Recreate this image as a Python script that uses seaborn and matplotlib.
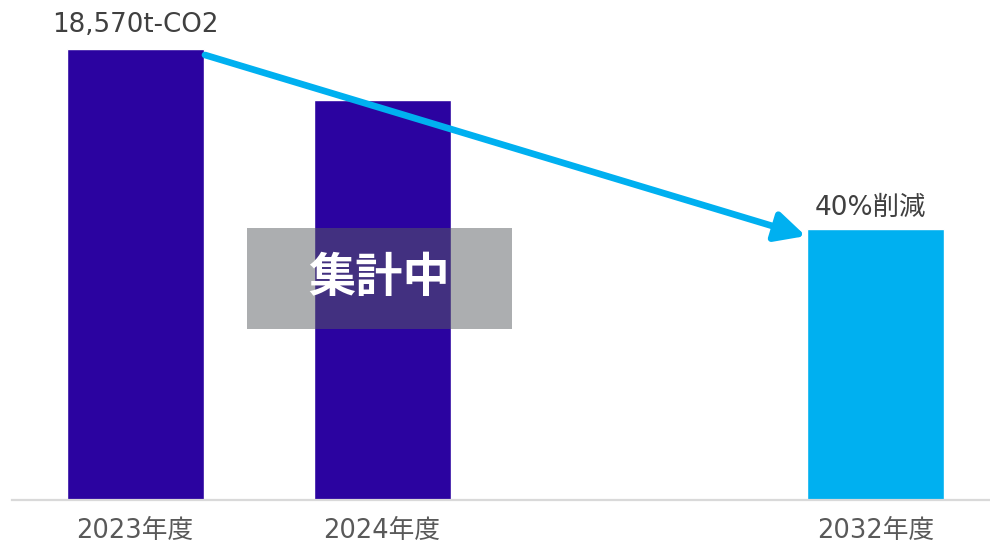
import numpy as np
import pandas as pd
import matplotlib
matplotlib.use("Agg")
import matplotlib.pyplot as plt
from matplotlib.patches import Rectangle
import seaborn as sns

# Emissions by fiscal year (t-CO2); the empty slot keeps the gap before the target year
years = ["2023年度", "2024年度", " ", "2032年度"]
emissions = [18570, 16480, np.nan, 11142]   # 2032 target = 40% below 2023
bar_colors = ["#2B03A0", "#2B03A0", "#2B03A0", "#00B0F0"]
base_label = "18,570t-CO2"
target_label = "40%削減"
pending_label = "集計中"

sns.set_theme(style="white")
plt.rcParams["font.family"] = ["DejaVu Sans", "Noto Sans CJK JP"]

df = pd.DataFrame({"year": years, "emissions": emissions})

fig = plt.figure(figsize=(9.9, 5.43), dpi=100)
ax = fig.add_axes([11.8 / 990, 1 - 499.5 / 543, (990 - 11.8) / 990, 499.5 / 543])

bar_w = 0.555
sns.barplot(data=df, x="year", y="emissions", hue="year", order=years,
            palette=dict(zip(years, bar_colors)), width=bar_w, dodge=False,
            legend=False, saturation=1, ax=ax)

ax.set_xlim(-0.5, -0.5 + (990 - 11.8) / 246.85)
ax.set_ylim(0, 20603)
ax.set_xlabel("")
ax.set_ylabel("")
ax.set_yticks([])
for side in ("left", "right", "top"):
    ax.spines[side].set_visible(False)
ax.spines["bottom"].set_color("#D9D9D9")
ax.spines["bottom"].set_linewidth(1.6)
ax.tick_params(axis="x", length=0, pad=13, labelsize=18.5, labelcolor="#595959")

# value labels above the first and last bars
ax.annotate(base_label, xy=(0, emissions[0]), xytext=(0, 12.5), textcoords="offset points",
            ha="center", va="baseline", fontsize=18.8, color="#404040")
ax.annotate(target_label, xy=(3, emissions[3]), xytext=(-4, 10.3), textcoords="offset points",
            ha="center", va="baseline", fontsize=19, color="#404040")

# reduction arrow from the base year to the target year
ax.annotate("", xy=(3 - bar_w / 2 - 0.006, emissions[3] - 275),
            xytext=(0 + bar_w / 2 + 0.005, emissions[0] - 235),
            arrowprops=dict(arrowstyle="-|>,head_length=0.9,head_width=0.45",
                            color="#00B0F0", lw=4.8, mutation_scale=20,
                            shrinkA=0, shrinkB=0))

# "in progress" overlay on the 2024 bar
ax.add_patch(Rectangle((0.452, 7045), 1.073, 4154, facecolor="#5A5E62", alpha=0.5,
                       edgecolor="none", zorder=5))
ax.text(0.988, 9122, pending_label, ha="center", va="center", fontsize=34,
        fontweight="bold", color="white", zorder=6,
        family=["Noto Sans CJK JP", "DejaVu Sans"])

fig.savefig("out.png", dpi=100)
